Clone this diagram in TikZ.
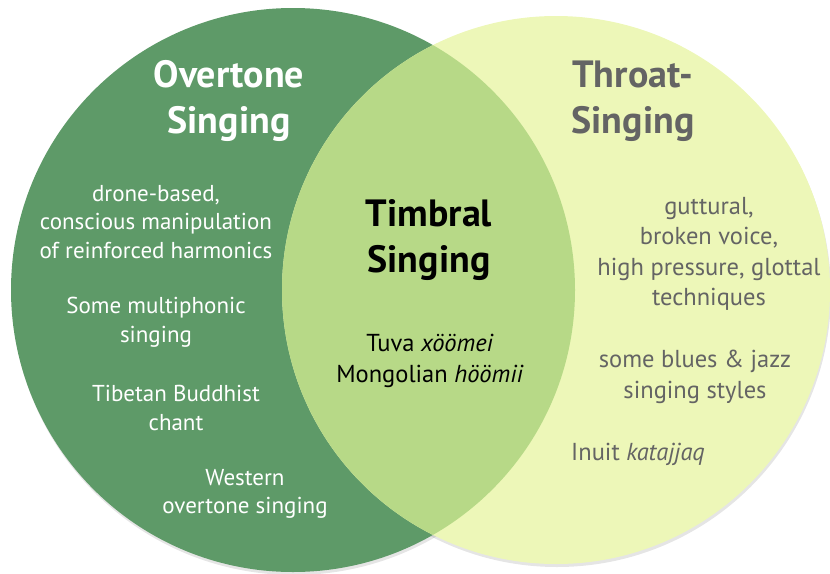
\documentclass[tikz,border=0pt]{standalone}
\usepackage{fontspec}
\setmainfont{PT Sans}
\usetikzlibrary{positioning}
\definecolor{OvertoneGreen}{RGB}{94,154,104}
\definecolor{TimbralGreen}{RGB}{183,217,135}
\definecolor{ThroatYellow}{RGB}{237,247,184}
\definecolor{ThroatGray}{RGB}{100,100,100}
\tikzset{
  titulo/.style={font=\fontsize{38}{46}\selectfont\bfseries, align=center, inner sep=0pt},
  texto/.style={font=\fontsize{23}{28.5}\selectfont, align=center, inner sep=0pt},
  textogrande/.style={font=\fontsize{24.5}{30.5}\selectfont, align=center, inner sep=0pt},
  overtonetxt/.style={text=white},
  throattxt/.style={text=ThroatGray},
  timbraltxt/.style={text=black},
}

\begin{document}
\begin{tikzpicture}[x=1pt,y=-1pt]
  \useasboundingbox (0,0) rectangle (830,573);

  % soft shadow under the two circles
  \fill[black,opacity=0.10] (294,293) circle [radius=282pt];
  \fill[black,opacity=0.10] (557,293) circle [radius=274pt];

  % the three regions
  \fill[OvertoneGreen] (293,290) circle [radius=282pt];
  \fill[ThroatYellow]  (556,290) circle [radius=274pt];
  \begin{scope}
    \clip (293,290) circle [radius=282pt];
    \fill[TimbralGreen] (556,290) circle [radius=274pt];
  \end{scope}

  % Overtone Singing
  \node[titulo,overtonetxt] (overtone)    at (229,101) {Overtone\\Singing};
  \node[texto,overtonetxt]  (drone)       at (156,222) {drone-based,\\conscious manipulation\\of reinforced harmonics};
  \node[texto,overtonetxt]  (multiphonic) at (156,322) {Some multiphonic\\singing};
  \node[texto,overtonetxt]  (tibetan)     at (176,408) {Tibetan Buddhist\\chant};
  \node[texto,overtonetxt]  (western)     at (245,494) {Western\\overtone singing};

  % Timbral Singing
  \node[titulo,timbraltxt]      (timbral) at (429,240) {Timbral\\Singing};
  \node[textogrande,timbraltxt] (tuva)    at (430,361) {Tuva \textit{xöömei}\\Mongolian \textit{höömii}};

  % Throat-Singing
  \node[titulo,throattxt]      (throat)   at (633,101) {Throat-\\Singing};
  \node[textogrande,throattxt] (guttural) at (709,254) {guttural,\\broken voice,\\high pressure, glottal\\techniques};
  \node[textogrande,throattxt] (blues)    at (695,377) {some blues \& jazz\\singing styles};
  \node[textogrande,throattxt] (inuit)    at (638,454) {Inuit \textit{katajjaq}};

\end{tikzpicture}
\end{document}
